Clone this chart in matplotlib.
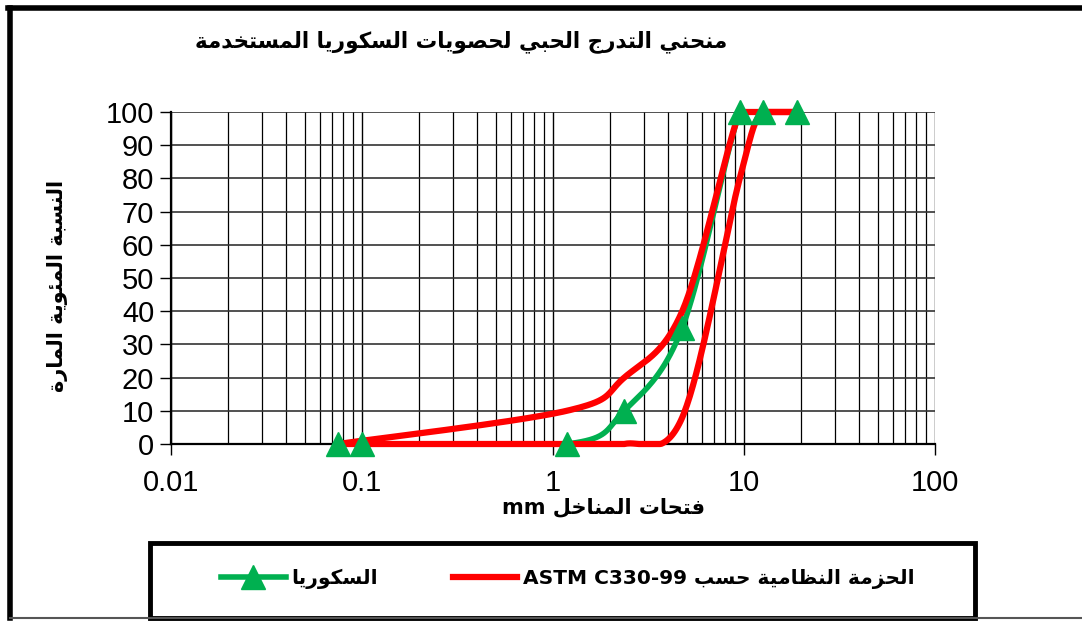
import numpy as np
import matplotlib
matplotlib.use("Agg")
import matplotlib.pyplot as plt
from matplotlib.lines import Line2D
from matplotlib.patches import Rectangle
from matplotlib.ticker import FixedLocator, NullFormatter

# sieve sizes (mm) and percent passing
sieves_scoria = [0.075, 0.1, 1.18, 2.36, 4.75, 9.5, 12.5, 19]
passing_scoria = [0, 0, 0, 10, 35, 100, 100, 100]

sieves_band = [0.075, 1.18, 2.36, 4.75, 9.5, 12.5, 19]
band_upper = [0, 10, 20, 40, 100, 100, 100]
band_lower = [0, 0, 0, 8, 80, 100, 100]

x_ticks = [0.01, 0.1, 1, 10, 100]
x_tick_labels = ["0.01", "0.1", "1", "10", "100"]
y_ticks = list(range(0, 101, 10))

title_txt = "منحني التدرج الحبي لحصويات السكوريا المستخدمة"
xlabel_txt = "فتحات المناخل"
ylabel_txt = "النسبة المئوية المارة"
legend_scoria = "السكوريا"
legend_band = "الحزمة النظامية حسب"
legend_band_std = "ASTM C330-99"

# --- arabic shaping (matplotlib has no text shaping of its own) ---
FORMS = {
    "\u0621": ("\uFE80", None, None, None),
    "\u0622": ("\uFE81", "\uFE82", None, None),
    "\u0623": ("\uFE83", "\uFE84", None, None),
    "\u0624": ("\uFE85", "\uFE86", None, None),
    "\u0625": ("\uFE87", "\uFE88", None, None),
    "\u0626": ("\uFE89", "\uFE8A", "\uFE8B", "\uFE8C"),
    "\u0627": ("\uFE8D", "\uFE8E", None, None),
    "\u0628": ("\uFE8F", "\uFE90", "\uFE91", "\uFE92"),
    "\u0629": ("\uFE93", "\uFE94", None, None),
    "\u062A": ("\uFE95", "\uFE96", "\uFE97", "\uFE98"),
    "\u062B": ("\uFE99", "\uFE9A", "\uFE9B", "\uFE9C"),
    "\u062C": ("\uFE9D", "\uFE9E", "\uFE9F", "\uFEA0"),
    "\u062D": ("\uFEA1", "\uFEA2", "\uFEA3", "\uFEA4"),
    "\u062E": ("\uFEA5", "\uFEA6", "\uFEA7", "\uFEA8"),
    "\u062F": ("\uFEA9", "\uFEAA", None, None),
    "\u0630": ("\uFEAB", "\uFEAC", None, None),
    "\u0631": ("\uFEAD", "\uFEAE", None, None),
    "\u0632": ("\uFEAF", "\uFEB0", None, None),
    "\u0633": ("\uFEB1", "\uFEB2", "\uFEB3", "\uFEB4"),
    "\u0634": ("\uFEB5", "\uFEB6", "\uFEB7", "\uFEB8"),
    "\u0635": ("\uFEB9", "\uFEBA", "\uFEBB", "\uFEBC"),
    "\u0636": ("\uFEBD", "\uFEBE", "\uFEBF", "\uFEC0"),
    "\u0637": ("\uFEC1", "\uFEC2", "\uFEC3", "\uFEC4"),
    "\u0638": ("\uFEC5", "\uFEC6", "\uFEC7", "\uFEC8"),
    "\u0639": ("\uFEC9", "\uFECA", "\uFECB", "\uFECC"),
    "\u063A": ("\uFECD", "\uFECE", "\uFECF", "\uFED0"),
    "\u0641": ("\uFED1", "\uFED2", "\uFED3", "\uFED4"),
    "\u0642": ("\uFED5", "\uFED6", "\uFED7", "\uFED8"),
    "\u0643": ("\uFED9", "\uFEDA", "\uFEDB", "\uFEDC"),
    "\u0644": ("\uFEDD", "\uFEDE", "\uFEDF", "\uFEE0"),
    "\u0645": ("\uFEE1", "\uFEE2", "\uFEE3", "\uFEE4"),
    "\u0646": ("\uFEE5", "\uFEE6", "\uFEE7", "\uFEE8"),
    "\u0647": ("\uFEE9", "\uFEEA", "\uFEEB", "\uFEEC"),
    "\u0648": ("\uFEED", "\uFEEE", None, None),
    "\u0649": ("\uFEEF", "\uFEF0", None, None),
    "\u064A": ("\uFEF1", "\uFEF2", "\uFEF3", "\uFEF4"),
}


def joins_left(ch):
    f = FORMS.get(ch)
    return f is not None and f[2] is not None


def joins_right(ch):
    f = FORMS.get(ch)
    return f is not None and f[1] is not None


def shape(text):
    text = text.replace("\u0644\u0627", "\uFEFB")  # lam-alef
    out = []
    for i, ch in enumerate(text):
        if ch == "\uFEFB":
            prev = text[i - 1] if i > 0 else ""
            out.append("\uFEFC" if joins_left(prev) else "\uFEFB")
            continue
        if ch not in FORMS:
            out.append(ch)
            continue
        prev = text[i - 1] if i > 0 else ""
        nxt = text[i + 1] if i + 1 < len(text) else ""
        if nxt == "\uFEFB":
            nxt = "\u0644"
        p = joins_left(prev) and joins_right(ch)
        n = joins_left(ch) and joins_right(nxt)
        iso, fin, ini, med = FORMS[ch]
        if p and n:
            out.append(med)
        elif p:
            out.append(fin)
        elif n:
            out.append(ini)
        else:
            out.append(iso)
    return "".join(out)


def rtl(text):
    return shape(text)[::-1]


def smooth(xs, ys, n=40):
    # excel style smoothed line: bezier through the points, built in log-x space,
    # kept inside 0..100 like the plot area
    px = np.log10(np.asarray(xs, float))
    py = np.asarray(ys, float)
    pts = np.column_stack([px, py])
    res = []
    t = np.linspace(0, 1, n)[:, None]
    for i in range(len(pts) - 1):
        p0 = pts[i - 1] if i > 0 else pts[i]
        p1 = pts[i]
        p2 = pts[i + 1]
        p3 = pts[i + 2] if i + 2 < len(pts) else pts[i + 1]
        c1 = p1 + (p2 - p0) / 6
        c2 = p2 - (p3 - p1) / 6
        seg = ((1 - t) ** 3) * p1 + 3 * ((1 - t) ** 2) * t * c1 + 3 * (1 - t) * t ** 2 * c2 + t ** 3 * p2
        res.append(seg)
    res = np.vstack(res)
    return 10 ** res[:, 0], np.clip(res[:, 1], 0, 100)


plt.rcParams["font.family"] = ["Liberation Sans", "DejaVu Sans"]
ar_font = ["DejaVu Sans"]

green = "#00B050"
red = "#FF0000"

fig = plt.figure(figsize=(10.82, 6.21), dpi=100)
ax = fig.add_axes([171 / 1082, 1 - 444 / 621, (935 - 171) / 1082, (444 - 112) / 621])

ax.set_xscale("log")
ax.set_xlim(0.01, 100)
ax.set_ylim(0, 100)

# grid
minor = [m * 10.0 ** e for e in range(-2, 2) for m in range(2, 10)]
ax.xaxis.set_major_locator(FixedLocator(x_ticks))
ax.xaxis.set_minor_locator(FixedLocator(minor))
ax.xaxis.set_minor_formatter(NullFormatter())
ax.set_xticklabels(x_tick_labels)
ax.set_yticks(y_ticks)
ax.grid(True, which="major", axis="x", color="black", lw=1.0)
ax.grid(True, which="minor", axis="x", color="black", lw=0.9)
ax.grid(True, which="major", axis="y", color="#333333", lw=1.2)
ax.set_axisbelow(True)
ax.tick_params(axis="both", which="major", labelsize=21, length=8, width=1.0, color="black", pad=4)
ax.tick_params(axis="x", which="minor", length=0)
ax.tick_params(axis="x", which="major", pad=10)
for s in ["top", "right"]:
    ax.spines[s].set_visible(False)
ax.spines["left"].set_linewidth(1.6)
ax.spines["bottom"].set_linewidth(1.6)

# curves
gx, gy = smooth(sieves_scoria, passing_scoria)
ax.plot(gx, gy, color=green, lw=4, zorder=3, clip_on=False)
ax.plot(sieves_scoria, passing_scoria, ls="none", marker="^", ms=17, color=green,
        zorder=6, clip_on=False)

ux, uy = smooth(sieves_band, band_upper)
lx, ly = smooth(sieves_band, band_lower)
ax.plot(ux, uy, color=red, lw=4.5, zorder=4, clip_on=False)
ax.plot(lx, ly, color=red, lw=4.5, zorder=4, clip_on=False)

# texts
fig.text(461 / 1082, 1 - 42 / 621, rtl(title_txt), ha="center", va="center",
         fontsize=15.5, fontweight="bold", family=ar_font)
fig.text(603 / 1082, 1 - 507 / 621, "mm " + rtl(xlabel_txt), ha="center", va="center",
         fontsize=15, fontweight="bold", family=ar_font)
fig.text(58 / 1082, 1 - 286 / 621, rtl(ylabel_txt), ha="center", va="center",
         rotation=90, fontsize=15, fontweight="bold", family=ar_font)

# outer frame
fig.add_artist(Line2D([10 / 1082, 10 / 1082], [1 - 8 / 621, 1 - 618 / 621], color="black", lw=4))
fig.add_artist(Line2D([8 / 1082, 1.0], [1 - 8 / 621, 1 - 8 / 621], color="black", lw=4))
fig.add_artist(Line2D([10 / 1082, 1.0], [1 - 618 / 621, 1 - 618 / 621], color="#555555", lw=1.5))

# legend box
fig.add_artist(Rectangle((150 / 1082, 1 - 618 / 621), (975 - 150) / 1082, (618 - 543) / 621,
                         transform=fig.transFigure, fill=False, edgecolor="black", lw=3.5))
h1 = Line2D([], [], color=green, lw=4, marker="^", ms=17)
h2 = Line2D([], [], color=red, lw=4.5)
leg = fig.legend([h1, h2], [rtl(legend_scoria), legend_band_std + " " + rtl(legend_band)],
                 loc="center", bbox_to_anchor=(568 / 1082, 1 - 579 / 621), ncol=2,
                 frameon=False, handlelength=3.2, columnspacing=3.7, handletextpad=0.3,
                 prop={"family": ar_font, "weight": "bold", "size": 14.5})

fig.savefig("out.png", dpi=100)
